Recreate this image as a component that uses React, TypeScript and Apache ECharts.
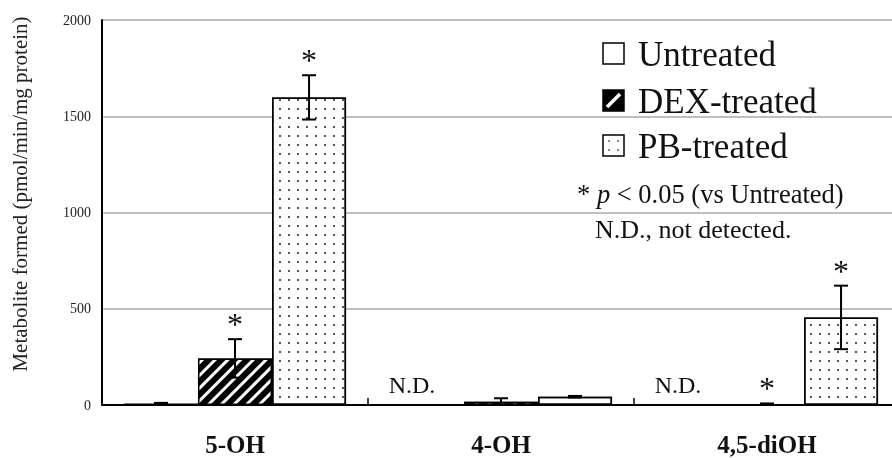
import React, { useEffect, useRef } from "react";
import * as echarts from "echarts";

const categories = ["5-OH", "4-OH", "4,5-diOH"];
const seriesNames = ["Untreated", "DEX-treated", "PB-treated"];
const untreated = [8, null, null];
const dexTreated = [242, 17, 2];
const pbTreated = [1598, 43, 455];
const untreatedErr = [3, 0, 0];
const dexErr = [100, 18, 6];
const pbErr = [115, 4, 165];
const significant = [
  [false, false, false],
  [true, false, true],
  [true, false, true],
];
const notDetected = [
  [1, 0],
  [2, 0],
];
const yTicks = { min: 0, max: 2000, interval: 500 };

const SERIF = "'Liberation Serif', 'Times New Roman', serif";
const CAT_GAP = 0.165;

export default function App() {
  const ref = useRef<HTMLDivElement>(null);
  useEffect(() => {
    if (!ref.current) return;
    const chart = echarts.init(ref.current, null, { renderer: "svg" });
    const values = [untreated, dexTreated, pbTreated];
    const errs = [untreatedErr, dexErr, pbErr];
    const errData: any[] = [];
    values.forEach((arr, s) => {
      arr.forEach((v, c) => {
        if (v == null) return;
        errData.push([c, v, errs[s][c], s, significant[s][c] ? 1 : 0]);
      });
    });
    const ndData = notDetected.map(([c, s]) => [c, 0, s]);

    const barOffset = (api: any, s: number) => {
      const catW = api.size([1, 0])[0];
      const barW = (catW * (1 - CAT_GAP)) / 3;
      return (s - 1) * barW;
    };

    chart.setOption({
      animation: false,
      grid: { left: 102, top: 20, right: 0, bottom: 53 },
      xAxis: {
        type: "category",
        data: categories,
        axisLine: { lineStyle: { color: "#000", width: 2 } },
        axisTick: { show: true, inside: true, length: 7, lineStyle: { color: "#000", width: 1.5 } },
        axisLabel: { fontFamily: SERIF, fontWeight: "bold", fontSize: 25, color: "#111", margin: 27 },
      },
      yAxis: {
        type: "value",
        min: yTicks.min,
        max: yTicks.max,
        interval: yTicks.interval,
        axisLine: { show: true, lineStyle: { color: "#000", width: 2 } },
        axisTick: { show: false },
        axisLabel: { fontFamily: SERIF, fontSize: 14, color: "#222", margin: 11, formatter: (v: number) => String(v) },
        splitLine: { lineStyle: { color: "#aaa", width: 1.5 } },
      },
      series: [
        {
          name: seriesNames[0],
          type: "bar",
          data: untreated,
          barGap: "0%",
          barCategoryGap: CAT_GAP * 100 + "%",
          itemStyle: { color: "#fff", borderColor: "#000", borderWidth: 1.5 },
        },
        {
          name: seriesNames[1],
          type: "bar",
          data: dexTreated,
          barGap: "0%",
          barCategoryGap: CAT_GAP * 100 + "%",
          itemStyle: {
            color: "#000",
            borderColor: "#000",
            borderWidth: 1.5,
            decal: {
              color: "#fff",
              symbol: "rect",
              symbolSize: 1,
              dashArrayX: [1, 0],
              dashArrayY: [3, 6],
              rotation: -Math.PI / 4,
            },
          },
        },
        {
          name: seriesNames[2],
          type: "bar",
          data: pbTreated,
          barGap: "0%",
          barCategoryGap: CAT_GAP * 100 + "%",
          itemStyle: {
            color: "#fff",
            borderColor: "#000",
            borderWidth: 1.5,
            decal: {
              color: "#555",
              symbol: "rect",
              symbolSize: 1,
              dashArrayX: [1.5, 6.8],
              dashArrayY: [1.5, 6.8],
            },
          },
        },
        {
          type: "custom",
          data: errData,
          encode: { x: 0, y: 1 },
          z: 5,
          renderItem: (params: any, api: any) => {
            const cat = api.value(0);
            const v = api.value(1);
            const e = api.value(2);
            const s = api.value(3);
            const star = api.value(4);
            const off = barOffset(api, s);
            const x = api.coord([cat, v])[0] + off;
            const yt = api.coord([cat, v + e])[1];
            const yb = api.coord([cat, Math.max(0, v - e)])[1];
            const st = { stroke: "#000", lineWidth: 2 };
            const children: any[] = [];
            if (e > 0) {
              children.push(
                { type: "line", shape: { x1: x, y1: yt, x2: x, y2: yb }, style: st },
                { type: "line", shape: { x1: x - 7, y1: yt, x2: x + 7, y2: yt }, style: st },
                { type: "line", shape: { x1: x - 7, y1: yb, x2: x + 7, y2: yb }, style: st }
              );
            }
            if (star) {
              children.push({
                type: "text",
                x,
                y: yt - 15,
                style: {
                  text: "*",
                  fontFamily: SERIF,
                  fontSize: 32,
                  fill: "#111",
                  align: "center",
                  verticalAlign: "middle",
                },
              });
            }
            return { type: "group", children };
          },
        },
        {
          type: "custom",
          data: ndData,
          encode: { x: 0, y: 1 },
          z: 5,
          renderItem: (params: any, api: any) => {
            const cat = api.value(0);
            const s = api.value(2);
            const off = barOffset(api, s);
            const p = api.coord([cat, 0]);
            return {
              type: "text",
              x: p[0] + off - 15,
              y: p[1] - 20,
              style: {
                text: "N.D.",
                fontFamily: SERIF,
                fontSize: 24,
                fill: "#111",
                align: "center",
                verticalAlign: "middle",
              },
            };
          },
        },
      ],
      graphic: [
        {
          type: "text",
          x: 20,
          y: 194,
          rotation: Math.PI / 2,
          style: {
            text: "Metabolite formed (pmol/min/mg protein)",
            fontFamily: SERIF,
            fontSize: 21,
            fill: "#222",
            align: "center",
            verticalAlign: "middle",
          },
        },
        {
          type: "group",
          z: 100,
          children: [
            { type: "rect", shape: { x: 567, y: 22, width: 286, height: 186 }, style: { fill: "#fff" } },
            { type: "rect", shape: { x: 603, y: 43, width: 21, height: 21 }, style: { fill: "#fff", stroke: "#000", lineWidth: 1.5 } },
            { type: "rect", shape: { x: 603, y: 90, width: 21, height: 21 }, style: { fill: "#000", stroke: "#000", lineWidth: 1.5 } },
            { type: "line", shape: { x1: 607, y1: 107, x2: 620, y2: 94 }, style: { stroke: "#fff", lineWidth: 3.5 } },
            { type: "rect", shape: { x: 603, y: 135, width: 21, height: 21 }, style: { fill: "#fff", stroke: "#000", lineWidth: 1.5 } },
            { type: "circle", shape: { cx: 609, cy: 141, r: 0.9 }, style: { fill: "#555" } },
            { type: "circle", shape: { cx: 618, cy: 141, r: 0.9 }, style: { fill: "#555" } },
            { type: "circle", shape: { cx: 609, cy: 150, r: 0.9 }, style: { fill: "#555" } },
            { type: "circle", shape: { cx: 618, cy: 150, r: 0.9 }, style: { fill: "#555" } },
            { type: "text", x: 638, y: 54, style: { text: seriesNames[0], fontFamily: SERIF, fontSize: 35, fill: "#111", verticalAlign: "middle" } },
            { type: "text", x: 638, y: 101, style: { text: seriesNames[1], fontFamily: SERIF, fontSize: 35, fill: "#111", verticalAlign: "middle" } },
            { type: "text", x: 638, y: 146, style: { text: seriesNames[2], fontFamily: SERIF, fontSize: 35, fill: "#111", verticalAlign: "middle" } },
            {
              type: "text",
              x: 577,
              y: 194,
              style: {
                text: "{s|*} {i|p} < 0.05 (vs Untreated)",
                fontFamily: SERIF,
                fontSize: 26.5,
                fill: "#111",
                verticalAlign: "middle",
                rich: {
                  s: { fontFamily: SERIF, fontSize: 26.5, fill: "#111" },
                  i: { fontFamily: SERIF, fontSize: 26.5, fontStyle: "italic", fill: "#111" },
                },
              },
            },
            { type: "text", x: 595, y: 229, style: { text: "N.D., not detected.", fontFamily: SERIF, fontSize: 26, fill: "#111", verticalAlign: "middle" } },
          ],
        },
      ],
    });
    return () => chart.dispose();
  }, []);
  return (
    <div style={{ position: "fixed", left: 0, top: 0, width: 892, height: 458, overflow: "hidden" }}>
      <div ref={ref} style={{ width: 900, height: 458 }} />
    </div>
  );
}
